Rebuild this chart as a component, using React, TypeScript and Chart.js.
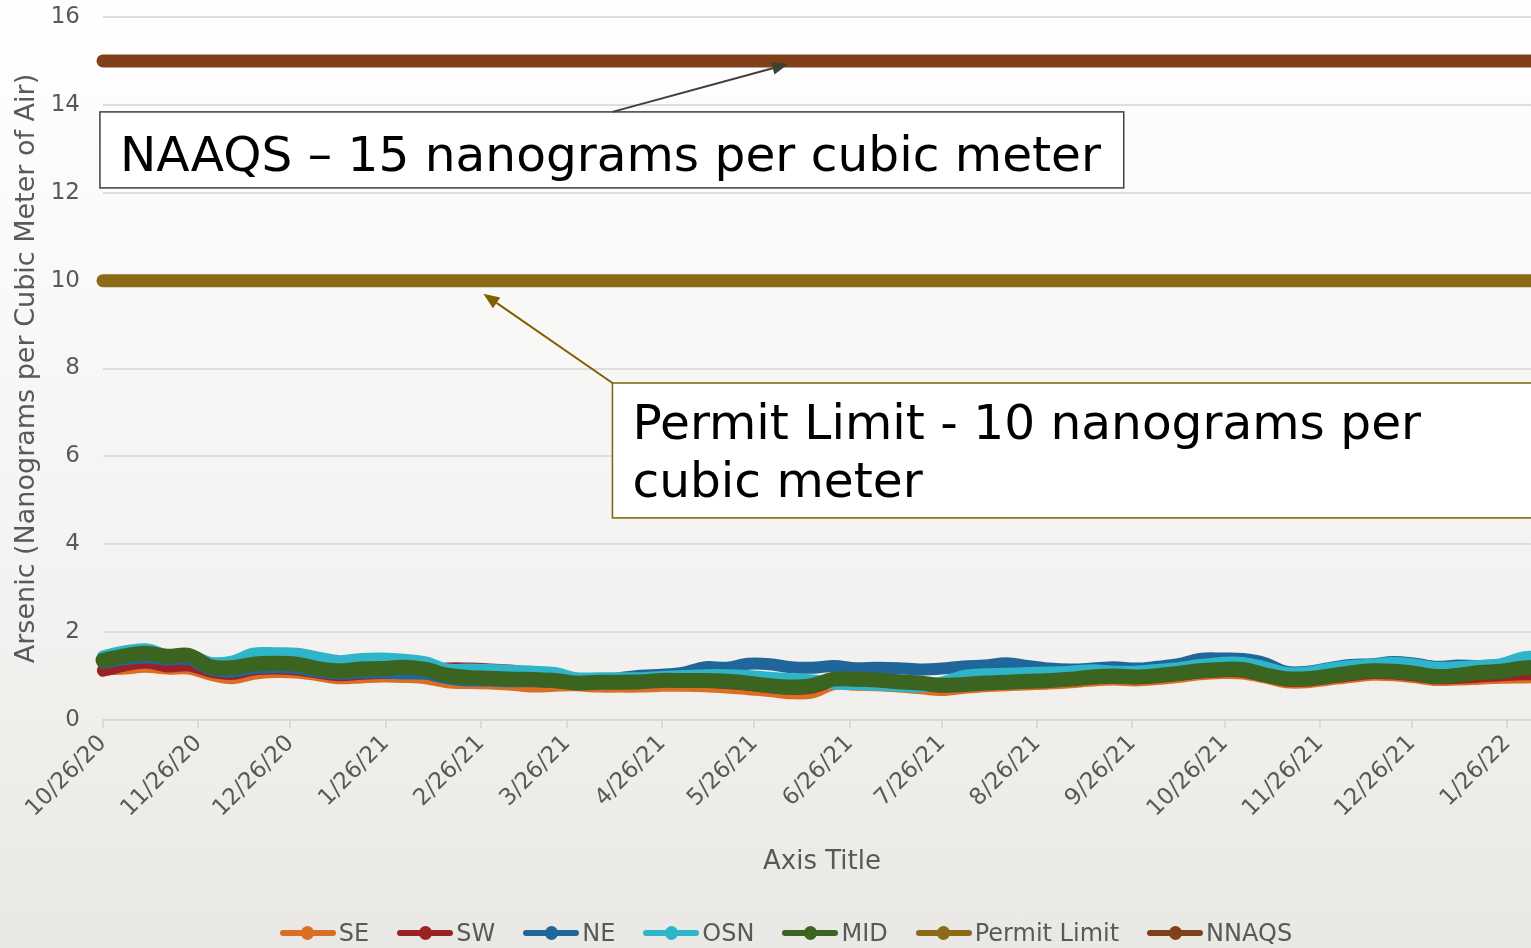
import React, { useEffect, useRef } from 'react';
import { Chart, registerables } from 'chart.js';

Chart.register(...registerables);

const FONT = "'DejaVu Sans', Verdana, sans-serif";

// Weekly sample dates (categories)
const sampleDates = [
  '2020-10-26', '2020-11-02', '2020-11-09', '2020-11-16', '2020-11-23', '2020-11-30',
  '2020-12-07', '2020-12-14', '2020-12-21', '2020-12-28', '2021-01-04', '2021-01-11',
  '2021-01-18', '2021-01-25', '2021-02-01', '2021-02-08', '2021-02-15', '2021-02-22',
  '2021-03-01', '2021-03-08', '2021-03-15', '2021-03-22', '2021-03-29', '2021-04-05',
  '2021-04-12', '2021-04-19', '2021-04-26', '2021-05-03', '2021-05-10', '2021-05-17',
  '2021-05-24', '2021-05-31', '2021-06-07', '2021-06-14', '2021-06-21', '2021-06-28',
  '2021-07-05', '2021-07-12', '2021-07-19', '2021-07-26', '2021-08-02', '2021-08-09',
  '2021-08-16', '2021-08-23', '2021-08-30', '2021-09-06', '2021-09-13', '2021-09-20',
  '2021-09-27', '2021-10-04', '2021-10-11', '2021-10-18', '2021-10-25', '2021-11-01',
  '2021-11-08', '2021-11-15', '2021-11-22', '2021-11-29', '2021-12-06', '2021-12-13',
  '2021-12-20', '2021-12-27', '2022-01-03', '2022-01-10', '2022-01-17', '2022-01-24',
  '2022-01-31', '2022-02-06',
];

const seValues = [
  1.15, 1.17, 1.21, 1.17, 1.17, 1.03, 0.95, 1.05, 1.09, 1.08, 1.02, 0.95,
  0.97, 0.99, 0.98, 0.95, 0.86, 0.84, 0.83, 0.80, 0.76, 0.78, 0.79, 0.76,
  0.76, 0.76, 0.78, 0.78, 0.77, 0.74, 0.70, 0.66, 0.61, 0.63, 0.82, 0.80,
  0.79, 0.76, 0.72, 0.68, 0.73, 0.77, 0.79, 0.81, 0.83, 0.86, 0.90, 0.92,
  0.90, 0.93, 0.98, 1.04, 1.07, 1.06, 0.97, 0.86, 0.86, 0.92, 0.98, 1.03,
  1.02, 0.97, 0.91, 0.92, 0.94, 0.96, 0.97, 0.98,
];

const swValues = [
  1.12, 1.24, 1.31, 1.22, 1.24, 1.10, 1.05, 1.15, 1.17, 1.15, 1.08, 1.02,
  1.05, 1.07, 1.07, 1.10, 1.17, 1.17, 1.15, 1.12, 1.05, 0.98, 0.85, 0.85,
  0.85, 0.86, 0.88, 0.88, 0.87, 0.84, 0.80, 0.75, 0.71, 0.74, 0.88, 0.88,
  0.86, 0.83, 0.80, 0.76, 0.79, 0.82, 0.84, 0.86, 0.88, 0.91, 0.95, 0.97,
  0.95, 0.98, 1.03, 1.08, 1.11, 1.10, 1.00, 0.90, 0.90, 0.96, 1.02, 1.07,
  1.06, 1.01, 0.95, 0.96, 0.99, 1.02, 1.04, 1.05,
];

const neValues = [
  1.30, 1.38, 1.42, 1.38, 1.38, 1.15, 1.10, 1.18, 1.20, 1.18, 1.10, 1.05,
  1.08, 1.08, 1.06, 1.05, 0.95, 0.90, 0.90, 0.88, 0.88, 0.86, 0.84, 0.88,
  0.95, 1.01, 1.03, 1.08, 1.20, 1.19, 1.28, 1.27, 1.20, 1.19, 1.23, 1.18,
  1.19, 1.18, 1.15, 1.17, 1.22, 1.24, 1.29, 1.23, 1.17, 1.15, 1.17, 1.20,
  1.17, 1.21, 1.27, 1.39, 1.40, 1.39, 1.30, 1.10, 1.10, 1.18, 1.25, 1.27,
  1.32, 1.28, 1.21, 1.24, 1.23, 1.26, 1.40, 1.43,
];

const osnValues = [
  1.45, 1.56, 1.61, 1.47, 1.48, 1.30, 1.33, 1.51, 1.52, 1.51, 1.42, 1.34,
  1.39, 1.40, 1.37, 1.31, 1.15, 1.15, 1.14, 1.12, 1.10, 1.07, 0.95, 0.95,
  0.95, 0.95, 0.98, 1.00, 1.02, 1.02, 1.00, 0.96, 0.93, 0.90, 0.83, 0.82,
  0.80, 0.78, 0.76, 0.85, 1.00, 1.04, 1.05, 1.07, 1.08, 1.10, 1.13, 1.10,
  1.10, 1.14, 1.18, 1.25, 1.30, 1.30, 1.20, 1.07, 1.08, 1.17, 1.23, 1.26,
  1.30, 1.26, 1.19, 1.20, 1.23, 1.27, 1.42, 1.45,
];

const midValues = [
  1.36, 1.46, 1.52, 1.45, 1.47, 1.21, 1.19, 1.27, 1.29, 1.27, 1.17, 1.12,
  1.16, 1.17, 1.20, 1.15, 1.02, 0.97, 0.95, 0.93, 0.92, 0.90, 0.84, 0.86,
  0.86, 0.87, 0.90, 0.90, 0.90, 0.88, 0.84, 0.78, 0.75, 0.79, 0.93, 0.93,
  0.91, 0.87, 0.84, 0.79, 0.81, 0.84, 0.86, 0.88, 0.90, 0.93, 0.98, 1.00,
  0.98, 1.01, 1.06, 1.12, 1.15, 1.15, 1.03, 0.94, 0.94, 1.00, 1.07, 1.12,
  1.11, 1.06, 0.99, 1.02, 1.08, 1.11, 1.18, 1.20,
];

const limitDates = ['2020-10-26', '2022-02-06'];
const permitLimitValues = [10, 10];
const naaqsValues = [15, 15];

const tickDates = [
  '2020-10-26', '2020-11-26', '2020-12-26', '2021-01-26', '2021-02-26', '2021-03-26',
  '2021-04-26', '2021-05-26', '2021-06-26', '2021-07-26', '2021-08-26', '2021-09-26',
  '2021-10-26', '2021-11-26', '2021-12-26', '2022-01-26',
];
const tickLabels = [
  '10/26/20', '11/26/20', '12/26/20', '1/26/21', '2/26/21', '3/26/21',
  '4/26/21', '5/26/21', '6/26/21', '7/26/21', '8/26/21', '9/26/21',
  '10/26/21', '11/26/21', '12/26/21', '1/26/22',
];

const axisEndDate = '2022-02-06';

const COLORS = {
  SE: '#DA6F24',
  SW: '#9B2125',
  NE: '#21669A',
  OSN: '#2FB5C9',
  MID: '#3C6421',
  Permit: '#8C6A1A',
  NNAQS: '#80411A',
};

const START = Date.UTC(2020, 9, 26);
const dayOf = (s: string) => {
  const [y, m, d] = s.split('-').map(Number);
  return Math.round((Date.UTC(y, m - 1, d) - START) / 86400000);
};

const toPoints = (dates: string[], vals: number[]) =>
  dates.map((d, i) => ({ x: dayOf(d), y: vals[i] }));

const legendItems = [
  { label: 'SE', color: COLORS.SE },
  { label: 'SW', color: COLORS.SW },
  { label: 'NE', color: COLORS.NE },
  { label: 'OSN', color: COLORS.OSN },
  { label: 'MID', color: COLORS.MID },
  { label: 'Permit Limit', color: COLORS.Permit },
  { label: 'NNAQS', color: COLORS.NNAQS },
];

function drawArrow(ctx: CanvasRenderingContext2D, x0: number, y0: number, x1: number, y1: number,
  color: string, lw: number, headLen: number, headW: number) {
  const ang = Math.atan2(y1 - y0, x1 - x0);
  const bx = x1 - headLen * Math.cos(ang);
  const by = y1 - headLen * Math.sin(ang);
  ctx.strokeStyle = color;
  ctx.lineWidth = lw;
  ctx.beginPath();
  ctx.moveTo(x0, y0);
  ctx.lineTo(bx, by);
  ctx.stroke();
  ctx.fillStyle = color;
  ctx.beginPath();
  ctx.moveTo(x1, y1);
  ctx.lineTo(bx + (headW / 2) * Math.sin(ang), by - (headW / 2) * Math.cos(ang));
  ctx.lineTo(bx - (headW / 2) * Math.sin(ang), by + (headW / 2) * Math.cos(ang));
  ctx.closePath();
  ctx.fill();
}

const calloutPlugin = {
  id: 'callouts',
  afterDraw(chart: any) {
    const { ctx } = chart;
    const xs = chart.scales.x;
    const ys = chart.scales.y;
    const px = (d: number) => xs.getPixelForValue(d);
    const py = (v: number) => ys.getPixelForValue(v);
    ctx.save();

    // NAAQS callout
    const b1x0 = px(-1), b1x1 = px(332.2), b1y0 = py(13.84), b1y1 = py(12.11);
    ctx.fillStyle = '#ffffff';
    ctx.fillRect(b1x0, b1y0, b1x1 - b1x0, b1y1 - b1y0);
    ctx.strokeStyle = '#3f3f3f';
    ctx.lineWidth = 1.5;
    ctx.strokeRect(b1x0, b1y0, b1x1 - b1x0, b1y1 - b1y0);
    ctx.fillStyle = '#000000';
    ctx.font = `48.6px ${FONT}`;
    ctx.textBaseline = 'alphabetic';
    ctx.textAlign = 'left';
    ctx.fillText('NAAQS \u2013 15 nanograms per cubic meter', px(5.5), py(12.5));
    drawArrow(ctx, px(165.8), b1y0, px(223), py(14.93), '#403f35', 2, 16, 13);

    // Permit callout
    const b2x0 = px(165.8), b2x1 = px(480), b2y0 = py(7.67), b2y1 = py(4.6);
    ctx.fillStyle = '#ffffff';
    ctx.fillRect(b2x0, b2y0, b2x1 - b2x0, b2y1 - b2y0);
    ctx.strokeStyle = '#7F6000';
    ctx.lineWidth = 1.5;
    ctx.strokeRect(b2x0, b2y0, b2x1 - b2x0, b2y1 - b2y0);
    ctx.fillStyle = '#000000';
    ctx.font = `48.6px ${FONT}`;
    ctx.fillText('Permit Limit - 10 nanograms per', px(172.3), py(6.4));
    ctx.fillText('cubic meter', px(172.3), py(5.08));
    drawArrow(ctx, b2x0, b2y0, px(123.8), py(9.7), '#7F6000', 2, 16, 13);

    ctx.restore();
  },
};

export default function App() {
  const canvasRef = useRef<HTMLCanvasElement | null>(null);

  useEffect(() => {
    if (!canvasRef.current) return;
    const mk = (label: string, dates: string[], vals: number[], color: string, width: number, order: number) => ({
      label,
      data: toPoints(dates, vals),
      borderColor: color,
      backgroundColor: color,
      borderWidth: width,
      borderCapStyle: 'round' as const,
      borderJoinStyle: 'round' as const,
      pointRadius: 0,
      pointHoverRadius: 0,
      tension: 0.35,
      fill: false,
      clip: false as const,
      order,
    });
    const chart = new Chart(canvasRef.current, {
      type: 'line',
      data: {
        datasets: [
          mk('SE', sampleDates, seValues, COLORS.SE, 12, 7),
          mk('SW', sampleDates, swValues, COLORS.SW, 12, 6),
          mk('NE', sampleDates, neValues, COLORS.NE, 12, 5),
          mk('OSN', sampleDates, osnValues, COLORS.OSN, 12, 4),
          mk('MID', sampleDates, midValues, COLORS.MID, 15, 3),
          mk('Permit Limit', limitDates, permitLimitValues, COLORS.Permit, 13, 2),
          mk('NNAQS', limitDates, naaqsValues, COLORS.NNAQS, 13, 1),
        ],
      },
      options: {
        animation: false,
        responsive: false,
        events: [],
        layout: { padding: { top: 17, left: 0, right: 0, bottom: 0 } },
        plugins: {
          legend: { display: false },
          tooltip: { enabled: false },
        },
        scales: {
          x: {
            type: 'linear',
            min: 0,
            max: dayOf(axisEndDate),
            afterFit: (scale: any) => { scale.height = 228; scale.paddingTop = 0; },
            afterBuildTicks: (scale: any) => {
              scale.ticks = tickDates.map((d) => ({ value: dayOf(d) }));
            },
            grid: {
              display: true,
              drawOnChartArea: false,
              drawTicks: true,
              tickLength: 8,
              color: '#d9d9d9',
              lineWidth: 2,
            },
            border: { display: true, color: '#d9d9d9', width: 2 },
            ticks: {
              autoSkip: false,
              maxRotation: 45,
              minRotation: 45,
              padding: 2,
              color: '#595959',
              font: { family: FONT, size: 23 },
              callback: (_v: any, i: number) => tickLabels[i],
            },
            title: {
              display: true,
              text: 'Axis Title',
              color: '#595959',
              font: { family: FONT, size: 26 },
              padding: { top: 0, bottom: 70 },
            },
          },
          y: {
            min: 0,
            max: 16,
            afterFit: (scale: any) => { scale.width = 103; scale.paddingTop = 0; scale.paddingBottom = 0; },
            grid: {
              color: '#dedede',
              lineWidth: 2,
              drawTicks: false,
            },
            border: { display: false },
            ticks: {
              stepSize: 2,
              padding: 23,
              color: '#595959',
              font: { family: FONT, size: 23 },
            },
            title: {
              display: true,
              text: 'Arsenic (Nanograms per Cubic Meter of Air)',
              color: '#595959',
              font: { family: FONT, size: 27 },
              padding: { top: 11, bottom: 0 },
            },
          },
        },
      },
      plugins: [calloutPlugin],
    });
    return () => chart.destroy();
  }, []);

  return (
    <div
      style={{
        position: 'absolute',
        left: 0,
        top: 0,
        width: 1531,
        height: 948,
        overflow: 'hidden',
        background: 'linear-gradient(to bottom, #ffffff 0%, #f3f2f0 65%, #eae8e4 100%)',
      }}
    >
      <canvas ref={canvasRef} width={1541} height={948} style={{ position: 'absolute', left: 0, top: 0 }} />
      <div
        style={{
          position: 'absolute',
          left: 0,
          top: 919,
          width: 1572,
          height: 28,
          display: 'flex',
          justifyContent: 'center',
          alignItems: 'center',
          gap: 28,
          fontFamily: FONT,
          fontSize: 24,
          lineHeight: '28px',
          color: '#595959',
          whiteSpace: 'nowrap',
        }}
      >
        {legendItems.map((it) => (
          <div key={it.label} style={{ display: 'flex', alignItems: 'center' }}>
            <span style={{ position: 'relative', display: 'inline-block', width: 56, height: 14, marginRight: 3 }}>
              <span
                style={{
                  position: 'absolute', left: 0, right: 0, top: 4, height: 6,
                  borderRadius: 3, background: it.color,
                }}
              />
              <span
                style={{
                  position: 'absolute', left: 21.5, top: 0, width: 13, height: 14,
                  borderRadius: '50%', background: it.color,
                }}
              />
            </span>
            <span>{it.label}</span>
          </div>
        ))}
      </div>
    </div>
  );
}
